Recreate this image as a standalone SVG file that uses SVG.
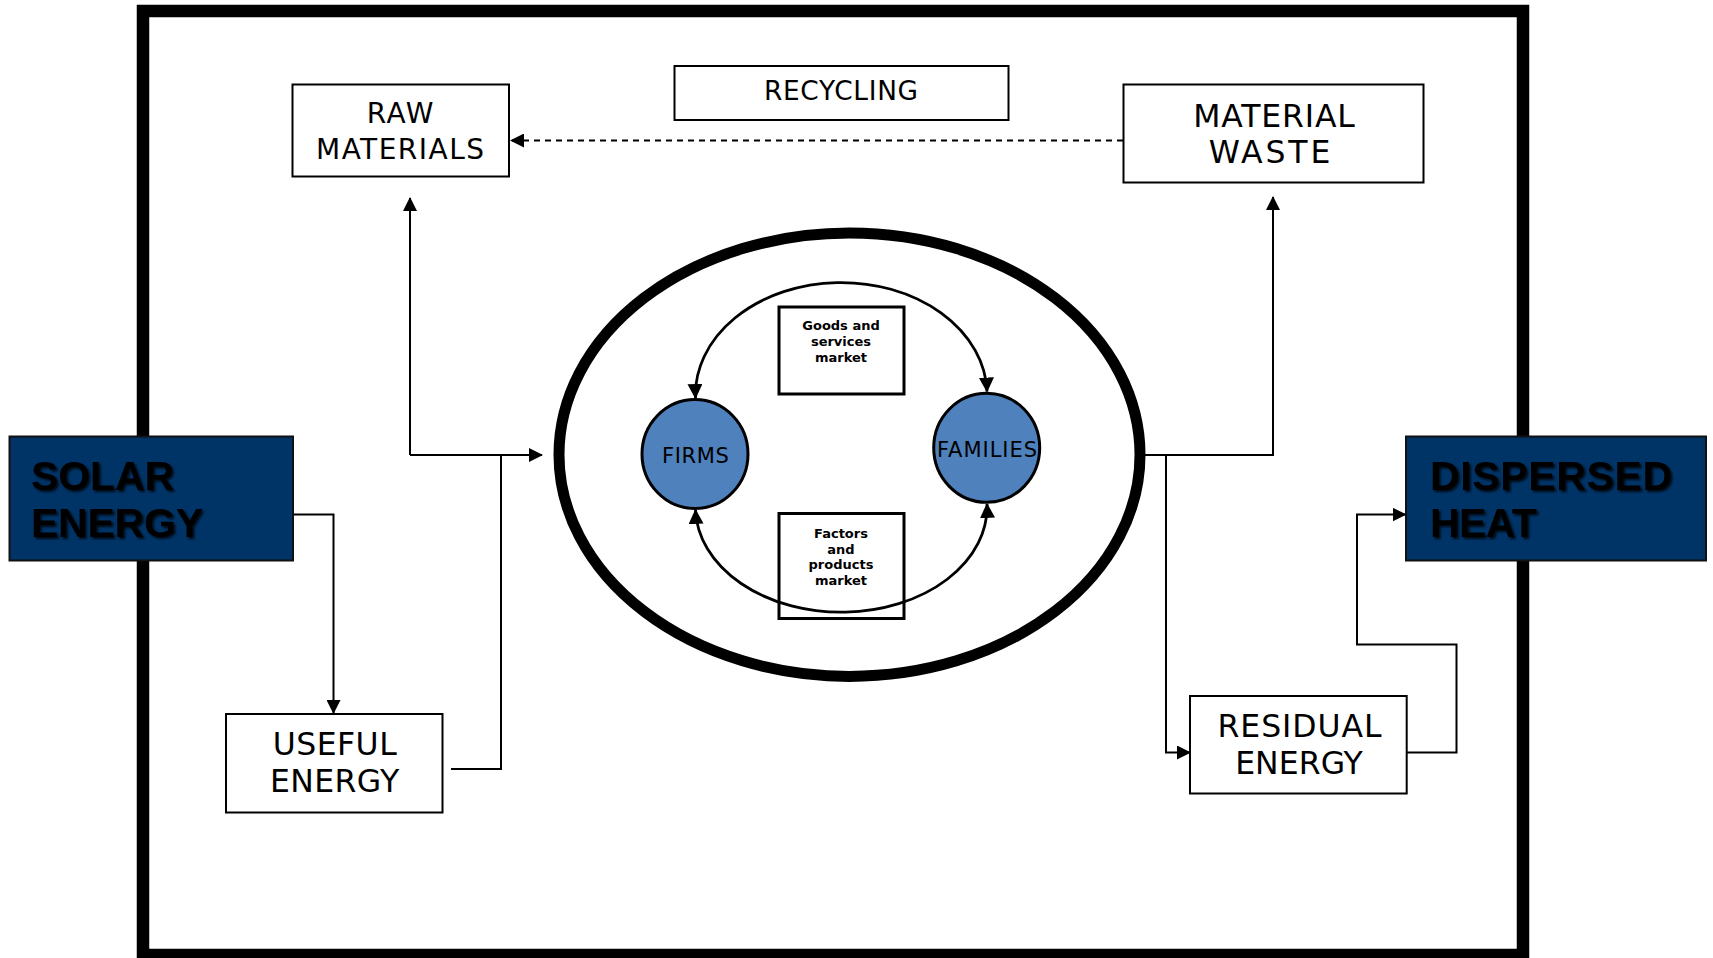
<svg xmlns="http://www.w3.org/2000/svg" width="1713" height="958" viewBox="0 0 1713 958">
<style>
.box{fill:#fff;stroke:#000;stroke-width:2}
.mbox{fill:#fff;stroke:#000;stroke-width:3}
.dark{fill:#003366;stroke:#111;stroke-width:2}
.lbl{font-family:"DejaVu Sans",Verdana,sans-serif;fill:#000;text-anchor:middle}
.sm{font-family:"DejaVu Sans",Verdana,sans-serif;font-weight:bold;font-size:13px;fill:#000;text-anchor:middle}
.big{font-family:"Liberation Sans",Arial,sans-serif;font-weight:bold;font-size:41px;fill:#000}
.ln{fill:none;stroke:#000;stroke-width:2}
.arc{fill:none;stroke:#000;stroke-width:2.8}
.node{fill:#4F81BD;stroke:#000;stroke-width:3}
</style>
<defs>
<marker id="ah" viewBox="0 0 14 14" refX="13" refY="7" markerWidth="14" markerHeight="14" markerUnits="userSpaceOnUse" orient="auto-start-reverse"><path d="M0,0 L14,7 L0,14 z" fill="#000"/></marker>
<marker id="ahb" viewBox="0 0 14 14" refX="13" refY="7" markerWidth="15" markerHeight="15" markerUnits="userSpaceOnUse" orient="auto-start-reverse"><path d="M0,0 L14,7 L0,14 z" fill="#000"/></marker>
<filter id="sh" x="-10%" y="-20%" width="130%" height="150%"><feDropShadow dx="2" dy="2" stdDeviation="1.3" flood-color="#000" flood-opacity="0.8"/></filter>
</defs>
<rect x="0" y="0" width="1713" height="958" fill="#fff"/>
<g id="frame"><rect x="143" y="11" width="1380" height="944" fill="#fff" stroke="#000" stroke-width="12.5"/></g>
<g id="economy"><ellipse cx="849.5" cy="454.7" rx="290.5" ry="221.7" fill="#fff" stroke="#000" stroke-width="11"/></g>
<g id="connectors">
<path class="ln" d="M1123,140.5 L511,140.5" stroke-dasharray="6,5" marker-end="url(#ah)"/>
<path class="ln" d="M410,455 L410,198" marker-end="url(#ah)"/>
<path class="ln" d="M410,455 L542,455" marker-end="url(#ah)"/>
<path class="ln" d="M451,769 L501,769 L501,455"/>
<path class="ln" d="M293,514.6 L333.5,514.6 L333.5,713" marker-end="url(#ah)"/>
<path class="ln" d="M1145,455 L1273,455 L1273,197" marker-end="url(#ah)"/>
<path class="ln" d="M1166,455 L1166,752.5 L1190,752.5" marker-end="url(#ah)"/>
<path class="ln" d="M1407,752.5 L1456.5,752.5 L1456.5,644.5 L1357,644.5 L1357,514.6 L1405.5,514.6" marker-end="url(#ah)"/>
</g>
<g id="goods-market"><rect class="mbox" x="779" y="307" width="125" height="87"/>
<text class="sm" x="841" y="330">Goods and</text><text class="sm" x="841" y="346">services</text><text class="sm" x="841" y="361.7">market</text></g>
<g id="factors-market"><rect class="mbox" x="779" y="513.5" width="125" height="105"/>
<text class="sm" x="841" y="537.6">Factors</text><text class="sm" x="841" y="553.5">and</text><text class="sm" x="841" y="569.4">products</text><text class="sm" x="841" y="585.2">market</text></g>
<g id="arcs">
<path class="arc" d="M695.5,398 A145.5,112 0 0 1 987,391.5" marker-start="url(#ahb)" marker-end="url(#ahb)"/>
<path class="arc" d="M695.5,510 A145.5,105 0 0 0 987,504" marker-start="url(#ahb)" marker-end="url(#ahb)"/>
</g>
<g id="firms"><ellipse class="node" cx="695" cy="454" rx="53" ry="54.5"/>
<text class="lbl" x="695.4" y="462.7" font-size="21" textLength="67">FIRMS</text></g>
<g id="families"><ellipse class="node" cx="986.7" cy="447.8" rx="53" ry="54.5"/>
<text class="lbl" x="987" y="456.7" font-size="21" textLength="100">FAMILIES</text></g>
<g id="raw-materials"><rect class="box" x="292.5" y="84.5" width="216.5" height="92"/>
<text class="lbl" x="400" y="123.3" font-size="28" textLength="66.7">RAW</text>
<text class="lbl" x="400" y="159.3" font-size="28" textLength="168">MATERIALS</text></g>
<g id="recycling"><rect class="box" x="674.5" y="66" width="334" height="54"/>
<text class="lbl" x="841" y="100" font-size="26.4" textLength="154">RECYCLING</text></g>
<g id="material-waste"><rect class="box" x="1123.5" y="84.5" width="300" height="98"/>
<text class="lbl" x="1274" y="126.7" font-size="31.5" textLength="161.7">MATERIAL</text>
<text class="lbl" x="1269.5" y="162.7" font-size="31.5" textLength="121.7">WASTE</text></g>
<g id="useful-energy"><rect class="box" x="226" y="714" width="216.5" height="98.5"/>
<text class="lbl" x="334.7" y="755" font-size="31.5" textLength="124">USEFUL</text>
<text class="lbl" x="334.7" y="791.7" font-size="31.5" textLength="129.3">ENERGY</text></g>
<g id="residual-energy"><rect class="box" x="1190" y="696" width="216.7" height="97.5"/>
<text class="lbl" x="1299.5" y="736.7" font-size="31.5" textLength="164">RESIDUAL</text>
<text class="lbl" x="1299" y="774" font-size="31.5" textLength="127.7">ENERGY</text></g>
<g id="solar-energy"><rect class="dark" x="9.5" y="436.5" width="283.5" height="124"/>
<g filter="url(#sh)"><text class="big" x="31" y="490" textLength="143">SOLAR</text>
<text class="big" x="31" y="536.7" textLength="172">ENERGY</text></g></g>
<g id="dispersed-heat"><rect class="dark" x="1406" y="436.5" width="300" height="124"/>
<g filter="url(#sh)"><text class="big" x="1430" y="490" textLength="242">DISPERSED</text>
<text class="big" x="1430" y="536.7" textLength="106.7">HEAT</text></g></g>
</svg>
